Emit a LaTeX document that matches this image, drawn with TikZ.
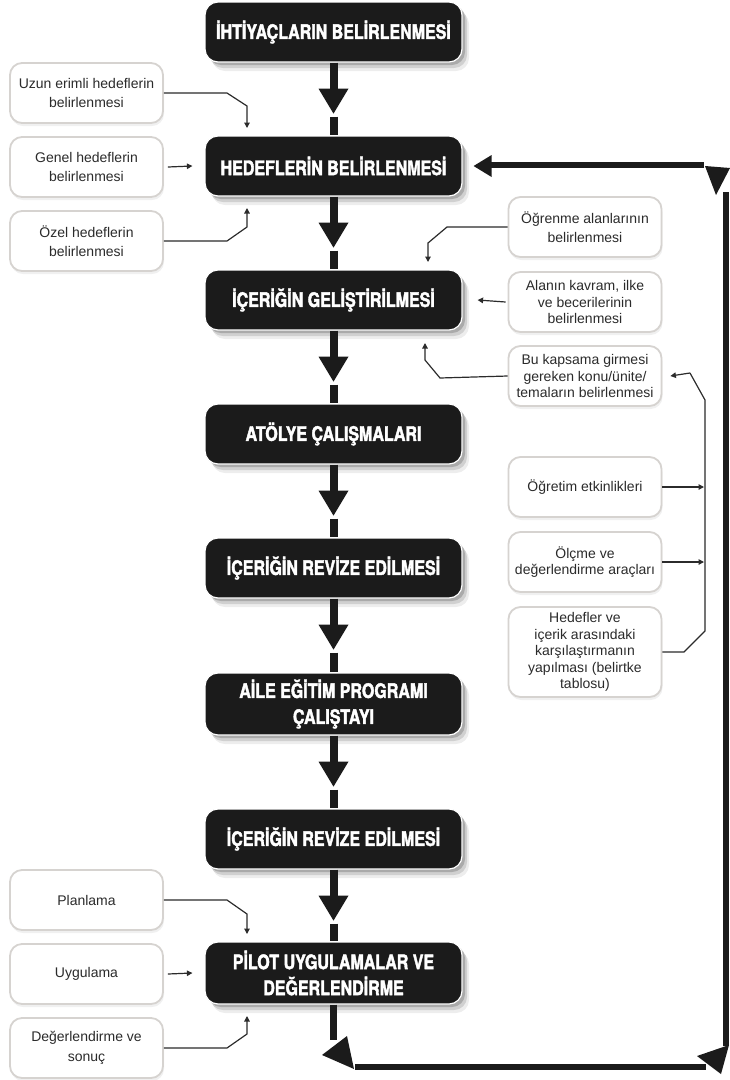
\documentclass[tikz,border=0pt]{standalone}
\usepackage{fontspec}
\newfontfamily\boxfont[FakeStretch=0.8,FakeBold=2]{TeX Gyre Heros}
\newfontfamily\sidefont{Liberation Sans}
\usetikzlibrary{shadows,arrows.meta,calc}
\definecolor{boxblack}{HTML}{1B1B1B}
\definecolor{sideborder}{HTML}{D6D3D0}
\definecolor{sidetext}{HTML}{2B2B2B}
\tikzset{
  mainbox/.style={rectangle, rounded corners=13pt, fill=boxblack, draw=white, line width=1.2pt,
    minimum width=257pt, minimum height=60pt, text=white, align=center, inner sep=0pt,
    font=\boxfont\bfseries\fontsize{20}{26}\selectfont,
    drop shadow={shadow xshift=7pt,shadow yshift=-9pt,fill=black,opacity=0.07},
    drop shadow={shadow xshift=5pt,shadow yshift=-6pt,fill=black,opacity=0.12},
    drop shadow={shadow xshift=3pt,shadow yshift=-3pt,fill=black,opacity=0.18}},
  sidebox/.style={rectangle, rounded corners=12pt, fill=white, draw=sideborder, line width=1.8pt,
    minimum width=153pt, minimum height=60pt, text=sidetext, align=center, inner sep=0pt,
    font=\sidefont\fontsize{14}{19.5}\selectfont,
    drop shadow={shadow xshift=1pt,shadow yshift=-3pt,fill=black,opacity=0.06}},
  sidetight/.style={font=\sidefont\fontsize{14}{16.5}\selectfont},
  stem/.style={line width=8pt, draw=boxblack},
  thinarrow/.style={line width=1.2pt, draw=sidetext, -{Triangle[length=5.5pt,width=5.5pt]}},
  thinline/.style={line width=1.2pt, draw=sidetext},
  loopline/.style={line width=6.5pt, draw=boxblack},
  looptip/.style={fill=boxblack},
}
\newcommand\flowarrow[2]{%
  \draw[stem] (#1.south) -- ($(#1.south)+(0,26)$);
  \fill[boxblack] ($(#1.south)+(-15,26)$) -- ($(#1.south)+(15,26)$) -- ($(#1.south)+(0,51)$) -- cycle;
  \draw[stem] ($(#1.south)+(0,54)$) -- (#2.north);
}
\begin{document}
\begin{tikzpicture}[x=1pt,y=-1pt]
\useasboundingbox (0,0) rectangle (730,1080);
\fill[white] (0,0) rectangle (730,1080);

% main column
\node[mainbox] (m1) at (333.5,32) {İHTİYAÇLARIN BELİRLENMESİ};
\node[mainbox] (m2) at (333.5,166) {HEDEFLERİN BELİRLENMESİ};
\node[mainbox] (m3) at (333.5,300) {İÇERİĞİN GELİŞTİRİLMESİ};
\node[mainbox] (m4) at (333.5,434) {ATÖLYE ÇALIŞMALARI};
\node[mainbox] (m5) at (333.5,568) {İÇERİĞİN REVİZE EDİLMESİ};
\node[mainbox, minimum height=62pt] (m6) at (333.5,704) {AİLE EĞİTİM PROGRAMI\\ÇALIŞTAYI};
\node[mainbox] (m7) at (333.5,839) {İÇERİĞİN REVİZE EDİLMESİ};
\node[mainbox, minimum height=62pt] (m8) at (333.5,973) {PİLOT UYGULAMALAR VE\\DEĞERLENDİRME};

\flowarrow{m1}{m2}
\flowarrow{m2}{m3}
\flowarrow{m3}{m4}
\flowarrow{m4}{m5}
\flowarrow{m5}{m6}
\flowarrow{m6}{m7}
\flowarrow{m7}{m8}

% left side boxes
\node[sidebox] (uzun) at (86.5,93) {Uzun erimli hedeflerin\\belirlenmesi};
\node[sidebox] (genel) at (86.5,167) {Genel hedeflerin\\belirlenmesi};
\node[sidebox] (ozel) at (86.5,241) {Özel hedeflerin\\belirlenmesi};
\node[sidebox] (plan) at (86.5,900) {Planlama};
\node[sidebox] (uyg) at (86.5,974) {Uygulama};
\node[sidebox] (deg) at (86.5,1048) {Değerlendirme ve\\sonuç};

% right side boxes
\node[sidebox] (ogr) at (585,227) {Öğrenme alanlarının\\belirlenmesi};
\node[sidebox, sidetight] (alan) at (585,302) {Alanın kavram, ilke\\ve becerilerinin\\belirlenmesi};
\node[sidebox, sidetight] (bu) at (585,376) {Bu kapsama girmesi\\gereken konu/ünite/\\temaların belirlenmesi};
\node[sidebox] (ogt) at (585,487) {Öğretim etkinlikleri};
\node[sidebox, sidetight] (olc) at (585,562) {Ölçme ve\\değerlendirme araçları};
\node[sidebox, sidetight, minimum height=90pt] (hed) at (585,652) {Hedefler ve\\içerik arasındaki\\karşılaştırmanın\\yapılması (belirtke\\tablosu)};

% left connectors
\coordinate (t1) at (247,128);
\coordinate (t2) at (247,208);
\coordinate (t3) at (247,934);
\coordinate (t4) at (247,1016);
\draw[thinarrow] (uzun.east) -- (227,93) -- (247,106) -- (t1);
\draw[thinarrow] ([xshift=4pt]genel.east) -- ([xshift=-12pt]m2.west);
\draw[thinarrow] (ozel.east) -- (227,241) -- (247,227) -- (t2);
\draw[thinarrow] (plan.east) -- (227,900) -- (247,914) -- (t3);
\draw[thinarrow] ([xshift=4pt]uyg.east) -- ([xshift=-12pt]m8.west);
\draw[thinarrow] (deg.east) -- (227,1048) -- (247,1034) -- (t4);

% right connectors
\coordinate (t5) at (428,262);
\coordinate (t6) at (425,343);
\draw[thinarrow] (ogr.west) -- (447,227) -- (428,243) -- (t5);
\draw[thinarrow] ([xshift=-2pt]alan.west) -- ([xshift=15pt]m3.east);
\draw[thinarrow] (bu.west) -- (440,378) -- (425,360) -- (t6);
\coordinate (b1) at (704,487);
\coordinate (b2) at (704,562);
\coordinate (b3) at (690,373);
\draw[thinline] (hed.east) -- (684,652) -- (705,631) -- (705,400) -- (b3);
\draw[thinarrow] (b3) -- ([xshift=8pt]bu.east);
\draw[thinarrow] (ogt.east) -- (b1);
\draw[thinarrow] (olc.east) -- (b2);

% feedback loop
\coordinate (c1) at (333.5,1040);
\coordinate (c2) at (355,1067);
\coordinate (c3) at (706,1067);
\coordinate (c4) at (726,1046);
\coordinate (c5) at (726,192);
\coordinate (c6) at (704,165);
\coordinate (c7) at (487,165);
\draw[loopline] (m8.south) -- (c1);
\fill[looptip] (322,1055) -- (347,1036) -- (354,1069) -- cycle;
\draw[loopline] (c2) -- (c3);
\fill[looptip] (697,1056) -- (729,1045) -- (721,1074) -- cycle;
\draw[loopline] (c4) -- (c5);
\fill[looptip] (705,166) -- (730,168) -- (716,195) -- cycle;
\draw[loopline] (c6) -- (c7);
\fill[looptip] ([xshift=11pt]m2.east) -- ++(18,-11) -- ++(0,22) -- cycle;
\end{tikzpicture}
\end{document}
